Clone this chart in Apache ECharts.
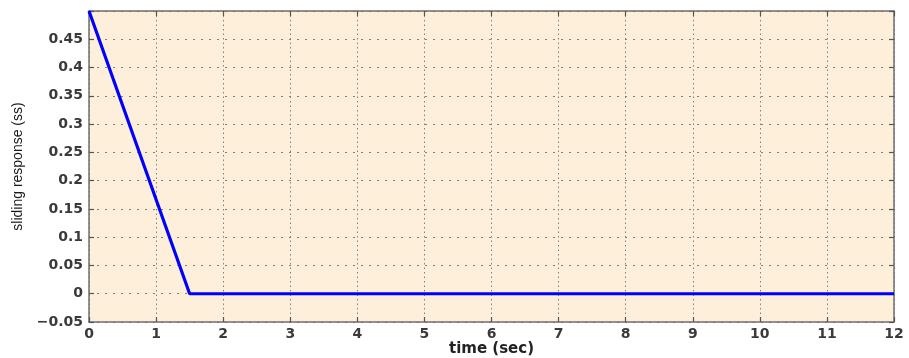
<!DOCTYPE html>
<html>
<head>
<meta charset="utf-8">
<title>sliding response</title>
<script src="https://cdn.jsdelivr.net/npm/echarts@6/dist/echarts.min.js"></script>
<style>
  html, body { margin: 0; padding: 0; background: #ffffff; }
  #chart { width: 909px; height: 358px; }
</style>
</head>
<body>
<div id="chart"></div>
<script>
// Sliding surface response s(t): linear reach phase, then held at zero
const timeSec = [0, 1.5, 12];
const slidingValue = [0.5, 0, 0];

const xTicks = { min: 0, max: 12, step: 1 };
const yTicks = { min: -0.05, max: 0.5, step: 0.05 };

const points = timeSec.map((t, i) => [t, slidingValue[i]]);

const labelFont = {
  fontFamily: 'DejaVu Sans',
  fontWeight: 'bold',
  fontSize: 14,
  color: '#3a3a3a'
};

function yLabel(v) {
  if (v > yTicks.max - 1e-6) return '';
  const r = Math.round(v * 100) / 100;
  if (r === 0) return '0';
  return String(r).replace('-', '\u2212');
}

const frameLine = { show: true, onZero: false, lineStyle: { color: '#6e6e6e', width: 1.5 } };
const tickIn = { show: true, inside: true, length: 5, lineStyle: { color: '#555555', width: 1.2 } };

const chart = echarts.init(document.getElementById('chart'), null, { renderer: 'canvas' });
chart.setOption({
  animation: false,
  backgroundColor: '#ffffff',
  grid: {
    left: 89, right: 15, top: 11, bottom: 36,
    outerBoundsMode: 'none',
    containLabel: false,
    show: true,
    backgroundColor: '#fdefda',
    borderWidth: 0
  },
  xAxis: [
    {
      type: 'value',
      min: xTicks.min, max: xTicks.max, interval: xTicks.step,
      position: 'bottom',
      axisLine: frameLine,
      axisTick: tickIn,
      axisLabel: Object.assign({ margin: 5 }, labelFont),
      splitLine: { show: true, lineStyle: { color: '#808080', width: 1, type: [1.5, 3] } },
      name: 'time (sec)',
      nameLocation: 'middle',
      nameGap: 27,
      nameMoveOverlap: false,
      nameTextStyle: {
        fontFamily: 'DejaVu Sans', fontWeight: 'bold', fontSize: 15,
        color: '#222222', verticalAlign: 'middle'
      }
    },
    {
      type: 'value',
      min: xTicks.min, max: xTicks.max, interval: xTicks.step,
      position: 'top',
      axisLine: frameLine,
      axisTick: tickIn,
      axisLabel: { show: false },
      splitLine: { show: false }
    }
  ],
  yAxis: [
    {
      type: 'value',
      min: yTicks.min, max: yTicks.max, interval: yTicks.step,
      position: 'left',
      axisLine: frameLine,
      axisTick: tickIn,
      axisLabel: Object.assign({ margin: 6, formatter: yLabel }, labelFont),
      splitLine: { show: true, lineStyle: { color: '#808080', width: 1, type: [2, 6] } },
      name: 'sliding response (ss)',
      nameLocation: 'middle',
      nameGap: 71,
      nameMoveOverlap: false,
      nameRotate: 90,
      nameTextStyle: {
        fontFamily: 'Liberation Sans', fontSize: 14,
        color: '#1a1a1a', verticalAlign: 'middle'
      }
    },
    {
      type: 'value',
      min: yTicks.min, max: yTicks.max, interval: yTicks.step,
      position: 'right',
      axisLine: frameLine,
      axisTick: tickIn,
      axisLabel: { show: false },
      splitLine: { show: false }
    }
  ],
  series: [
    {
      type: 'line',
      data: points,
      xAxisIndex: 0,
      yAxisIndex: 0,
      showSymbol: false,
      symbol: 'none',
      lineStyle: { color: '#0000ff', width: 3.2 },
      z: 5
    }
  ]
});
</script>
</body>
</html>
